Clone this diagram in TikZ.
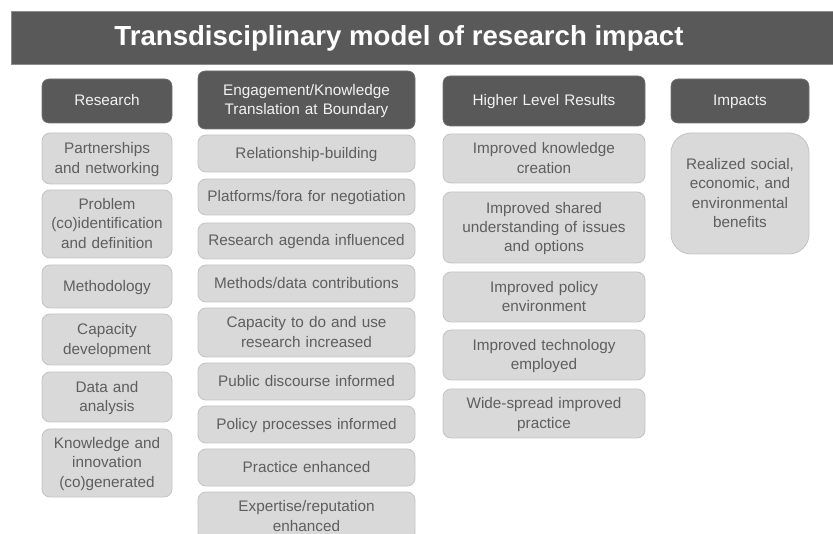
\documentclass[tikz,border=0pt]{standalone}
\usepackage{fontspec}
\setmainfont{Liberation Sans}
\definecolor{bardark}{HTML}{595959}
\definecolor{bardedge}{HTML}{8C8C8C}
\definecolor{itemfill}{HTML}{D9D9D9}
\definecolor{itemedge}{HTML}{C3C3C3}
\definecolor{itemtext}{HTML}{5E5E5E}
\definecolor{hdrtext}{HTML}{F2F2F2}
% fixed first-line height and last-line depth so every box centres its text alike
\newcommand{\topstrutbox}{\rule{0pt}{14.5pt}}
\newcommand{\botstrutbox}{\rule[-4.5pt]{0pt}{4.5pt}}
\begin{document}
\begin{tikzpicture}[x=1pt,y=-1pt,
  boxfont/.style={font=\fontsize{15.3}{19.3}\selectfont,
    execute at begin node={\topstrutbox}, execute at end node={\botstrutbox}},
  hdr/.style={boxfont, rounded corners=7pt, fill=bardark, draw=bardark!85!white,
    text=hdrtext, align=center, inner sep=0pt, line width=0.6pt},
  item/.style={boxfont, rounded corners=8pt, fill=itemfill, draw=itemedge,
    text=itemtext, align=center, inner sep=0pt, line width=0.8pt},
  colA/.style={minimum width=130pt, text width=126pt},
  colB/.style={minimum width=217pt, text width=213pt},
  colC/.style={minimum width=202pt, text width=198pt},
  colD/.style={minimum width=138pt, text width=134pt},
  ht/.style={minimum height=#1pt}]
\useasboundingbox (0,0) rectangle (833,534);
\begin{scope}
\clip (0,0) rectangle (833,534);

% title band
\node[fill=bardark, draw=bardedge, line width=0.6pt, minimum width=840pt,
  minimum height=53pt, inner sep=0pt, anchor=north west] (bar) at (11,11) {};
\node[text=white, font=\fontsize{27.6}{32}\selectfont\bfseries] (title) at (399,38.5)
  {Transdisciplinary model of research impact};

% column: research
\node[hdr, colA, ht=44] (hA) at (107,101) {Research};
\node[item, colA, ht=51] (a1) at (107,158.5) {Partnerships\\and networking};
\node[item, colA, ht=68] (a2) at (107,224) {Problem\\(co)identification\\and definition};
\node[item, colA, ht=43] (a3) at (107,286.5) {Methodology};
\node[item, colA, ht=51] (a4) at (107,339.5) {Capacity\\development};
\node[item, colA, ht=50] (a5) at (107,397) {Data and\\analysis};
\node[item, colA, ht=68] (a6) at (107,463) {Knowledge and\\innovation\\(co)generated};

% column: engagement
\node[hdr, colB, ht=58] (hB) at (306.5,100) {Engagement/Knowledge\\Translation at Boundary};
\node[item, colB, ht=37] (b1) at (306.5,153.5) {Relationship-building};
\node[item, colB, ht=36] (b2) at (306.5,197) {Platforms/fora for negotiation};
\node[item, colB, ht=36] (b3) at (306.5,241) {Research agenda influenced};
\node[item, colB, ht=37] (b4) at (306.5,283.5) {Methods/data contributions};
\node[item, colB, ht=49] (b5) at (306.5,332.5) {Capacity to do and use\\research increased};
\node[item, colB, ht=37] (b6) at (306.5,381.5) {Public discourse informed};
\node[item, colB, ht=37] (b7) at (306.5,424.5) {Policy processes informed};
\node[item, colB, ht=37] (b8) at (306.5,467.5) {Practice enhanced};
\node[item, colB, ht=49] (b9) at (306.5,516.5) {Expertise/reputation\\enhanced};

% column: higher level results
\node[hdr, colC, ht=50] (hC) at (544,101) {Higher Level Results};
\node[item, colC, ht=49] (c1) at (544,158.5) {Improved knowledge\\creation};
\node[item, colC, ht=71] (c2) at (544,227.5) {Improved shared\\understanding of issues\\and options};
\node[item, colC, ht=50] (c3) at (544,297) {Improved policy\\environment};
\node[item, colC, ht=50] (c4) at (544,355) {Improved technology\\employed};
\node[item, colC, ht=49] (c5) at (544,413.5) {Wide-spread improved\\practice};

% column: impacts
\node[hdr, colD, ht=44] (hD) at (740,101) {Impacts};
\node[item, colD, ht=121, rounded corners=20pt] (d1) at (740,193.5)
  {Realized social,\\economic, and\\environmental\\benefits};
\end{scope}
\end{tikzpicture}
\end{document}
